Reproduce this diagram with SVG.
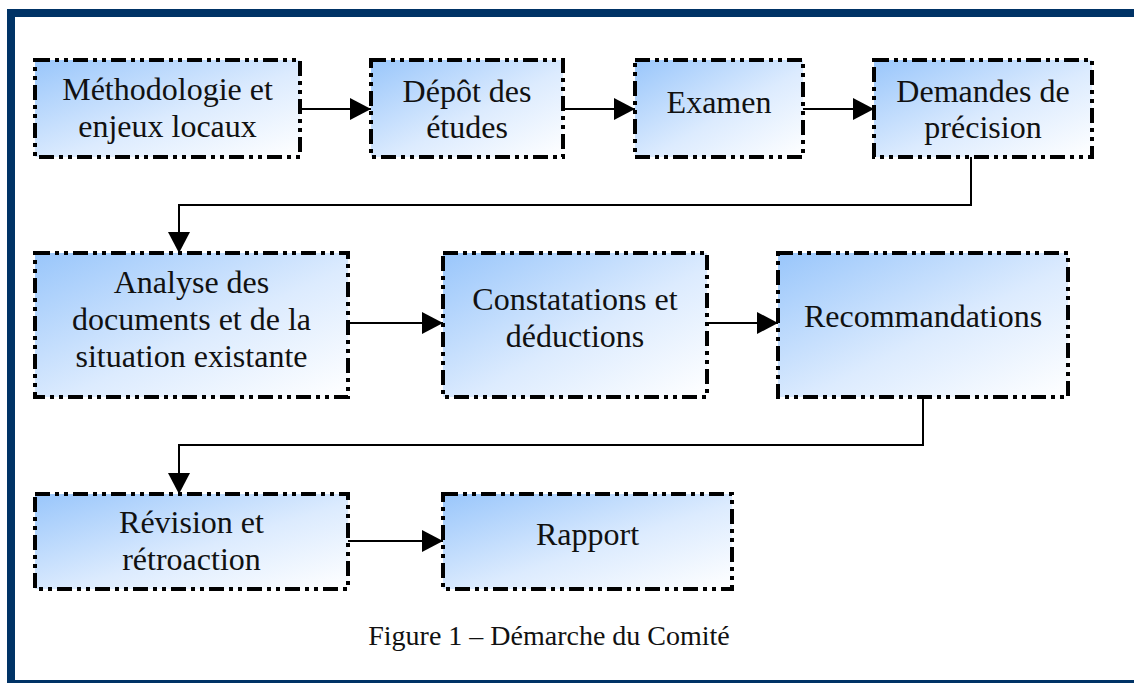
<svg xmlns="http://www.w3.org/2000/svg" width="1134" height="683" viewBox="0 0 1134 683">
<defs>
<linearGradient id="g" x1="0" y1="0" x2="1" y2="1">
<stop offset="0" stop-color="#99c6fb"/>
<stop offset="0.55" stop-color="#dcebfe"/>
<stop offset="1" stop-color="#ffffff"/>
</linearGradient>
<marker id="ah" markerUnits="userSpaceOnUse" markerWidth="22" markerHeight="24" refX="21" refY="11" orient="auto">
<path d="M0,0 L21,11 L0,22 Z" fill="#000"/>
</marker>
<style>
.box{fill:url(#g);stroke:#000;stroke-width:4;stroke-dasharray:15 5 4 5 4 5}
.t{font-family:"Liberation Serif","Times New Roman",serif;font-size:32px;fill:#111;text-anchor:middle}
.cap{font-family:"Liberation Serif","Times New Roman",serif;font-size:28px;fill:#111;text-anchor:middle}
.c{fill:none;stroke:#000;stroke-width:2}
</style>
</defs>
<rect width="1134" height="683" fill="#fff"/>
<g id="frame" fill="#003366">
<rect x="7" y="9" width="1127" height="8"/>
<rect x="7" y="9" width="8" height="674"/>
<rect x="7" y="680" width="1127" height="3"/>
</g>
<g id="connectors">
<line class="c" x1="300" y1="109" x2="371" y2="109" marker-end="url(#ah)"/>
<line class="c" x1="563" y1="109" x2="635" y2="109" marker-end="url(#ah)"/>
<line class="c" x1="803" y1="109" x2="874" y2="109" marker-end="url(#ah)"/>
<path class="c" d="M971,157 V205 H179 V253" marker-end="url(#ah)"/>
<line class="c" x1="348" y1="323" x2="443" y2="323" marker-end="url(#ah)"/>
<line class="c" x1="707" y1="323" x2="778" y2="323" marker-end="url(#ah)"/>
<path class="c" d="M923,397 V445 H179 V494" marker-end="url(#ah)"/>
<line class="c" x1="348" y1="541" x2="443" y2="541" marker-end="url(#ah)"/>
</g>
<g id="n1"><rect class="box" x="35" y="60" width="265" height="97"/><text class="t" x="167.5" y="100">Méthodologie et</text><text class="t" x="167.5" y="137">enjeux locaux</text></g>
<g id="n2"><rect class="box" x="371" y="60" width="192" height="97"/><text class="t" x="467" y="102">Dépôt des</text><text class="t" x="467" y="138">études</text></g>
<g id="n3"><rect class="box" x="635" y="60" width="168" height="97"/><text class="t" x="719" y="113">Examen</text></g>
<g id="n4"><rect class="box" x="874" y="60" width="218" height="97"/><text class="t" x="983" y="102">Demandes de</text><text class="t" x="983" y="138">précision</text></g>
<g id="n5"><rect class="box" x="35" y="253" width="313" height="144"/><text class="t" x="191.5" y="293">Analyse des</text><text class="t" x="191.5" y="330">documents et de la</text><text class="t" x="191.5" y="367">situation existante</text></g>
<g id="n6"><rect class="box" x="443" y="253" width="264" height="144"/><text class="t" x="575" y="310">Constatations et</text><text class="t" x="575" y="347">déductions</text></g>
<g id="n7"><rect class="box" x="778" y="253" width="290" height="144"/><text class="t" x="923" y="327">Recommandations</text></g>
<g id="n8"><rect class="box" x="35" y="494" width="313" height="95"/><text class="t" x="191.5" y="533">Révision et</text><text class="t" x="191.5" y="570">rétroaction</text></g>
<g id="n9"><rect class="box" x="443" y="494" width="289" height="95"/><text class="t" x="587.5" y="545">Rapport</text></g>
<text class="cap" x="549" y="645">Figure 1 – Démarche du Comité</text>
</svg>
